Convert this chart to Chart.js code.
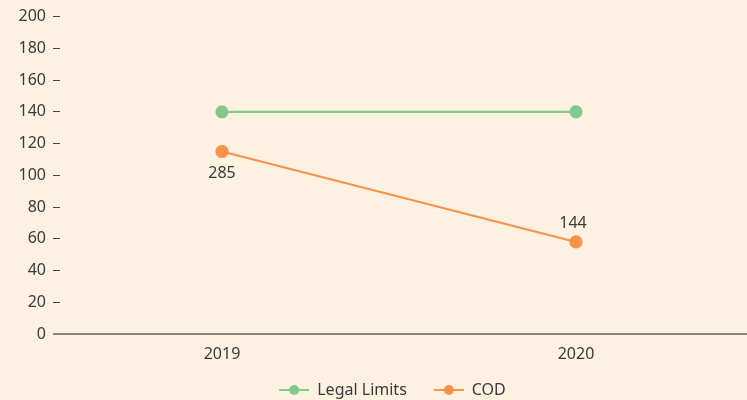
<!DOCTYPE html>
<html>
<head>
<meta charset="utf-8">
<script src="https://cdn.jsdelivr.net/npm/chart.js@4"></script>
<style>
  html, body { margin: 0; padding: 0; background: #fdf2e2; overflow: hidden; }
  #wrap { width: 800px; height: 400px; }
</style>
</head>
<body>
<div id="wrap"><canvas id="chart" width="800" height="400"></canvas></div>
<script>
// データ
const years = ['2019', '2020'];
const legalLimits = [140, 140];
const cod = [115, 58];
const codLabels = ['285', '144']; // 図中の注記（値とは別）
const yStep = 20;
const yMax = 200;

const GREEN = '#84c98b';
const ORANGE = '#f7924a';
const TEXT = '#3a3a3a';
const FONT = '"Noto Sans", sans-serif';

// 年のインデックスをx座標に
function toPoints(values) {
  return values.map(function (v, i) { return { x: i, y: v }; });
}

// 凡例用マーカー（線＋丸）、左側は項目間の余白
function legendMarker(color) {
  const c = document.createElement('canvas');
  c.width = 54; c.height = 12;
  const g = c.getContext('2d');
  g.strokeStyle = color;
  g.lineWidth = 2;
  g.beginPath(); g.moveTo(24, 6); g.lineTo(54, 6); g.stroke();
  g.fillStyle = color;
  g.beginPath(); g.arc(39, 6, 5, 0, Math.PI * 2); g.fill();
  return c;
}

// COD の注記を描く
const codLabelPlugin = {
  id: 'codLabels',
  afterDatasetsDraw(chart) {
    const meta = chart.getDatasetMeta(1);
    const ctx = chart.ctx;
    ctx.save();
    ctx.font = '16px ' + FONT;
    ctx.fillStyle = TEXT;
    ctx.textAlign = 'center';
    ctx.textBaseline = 'middle';
    meta.data.forEach(function (pt, i) {
      const below = i === 0;
      ctx.fillText(codLabels[i], pt.x + (below ? 0 : -3), pt.y + (below ? 22 : -19));
    });
    ctx.restore();
  }
};

new Chart(document.getElementById('chart'), {
  type: 'line',
  data: {
    datasets: [
      {
        label: 'Legal Limits',
        data: toPoints(legalLimits),
        borderColor: GREEN,
        backgroundColor: GREEN,
        borderWidth: 2.2,
        pointRadius: 5.5,
        pointHoverRadius: 5.5
      },
      {
        label: 'COD',
        data: toPoints(cod),
        borderColor: ORANGE,
        backgroundColor: ORANGE,
        borderWidth: 2.2,
        pointRadius: 5.5,
        pointHoverRadius: 5.5
      }
    ]
  },
  options: {
    responsive: false,
    animation: false,
    maintainAspectRatio: false,
    layout: { padding: { top: 16, right: 39, left: 0, bottom: -8 } },
    plugins: {
      tooltip: { enabled: false },
      legend: {
        position: 'bottom',
        labels: {
          color: TEXT,
          font: { family: FONT, size: 16 },
          usePointStyle: true,
          pointStyleWidth: 54,
          boxHeight: 12,
          padding: 3,
          generateLabels(chart) {
            return chart.data.datasets.map(function (ds, i) {
              return {
                text: ds.label,
                fontColor: TEXT,
                pointStyle: legendMarker(ds.borderColor),
                datasetIndex: i,
                hidden: false,
                lineWidth: 0
              };
            });
          }
        }
      }
    },
    scales: {
      x: {
        type: 'linear',
        min: -0.4576,
        max: 1.5226,
        afterBuildTicks(scale) {
          scale.ticks = years.map(function (y, i) { return { value: i }; });
        },
        afterFit(scale) { scale.height = 45; },
        border: { display: false },
        grid: { display: false },
        ticks: {
          color: TEXT, font: { family: FONT, size: 16 }, padding: 3,
          callback: function (v) { return years[v]; }
        }
      },
      y: {
        min: 0,
        max: yMax,
        afterFit(scale) { scale.width = 60; },
        border: { display: false },
        grid: {
          drawOnChartArea: true,
          tickLength: 7,
          color: function (c) { return c.tick && c.tick.value === 0 ? '#8a847c' : 'rgba(0,0,0,0)'; },
          tickColor: function (c) { return c.tick && c.tick.value === 0 ? '#8a847c' : '#444'; },
          lineWidth: function (c) { return c.tick && c.tick.value === 0 ? 2 : 1; },
          tickWidth: function (c) { return c.tick && c.tick.value === 0 ? 2 : 1; }
        },
        ticks: { stepSize: yStep, autoSkip: false, color: TEXT, font: { family: FONT, size: 16 }, padding: 7 }
      }
    }
  },
  plugins: [codLabelPlugin]
});
</script>
</body>
</html>
